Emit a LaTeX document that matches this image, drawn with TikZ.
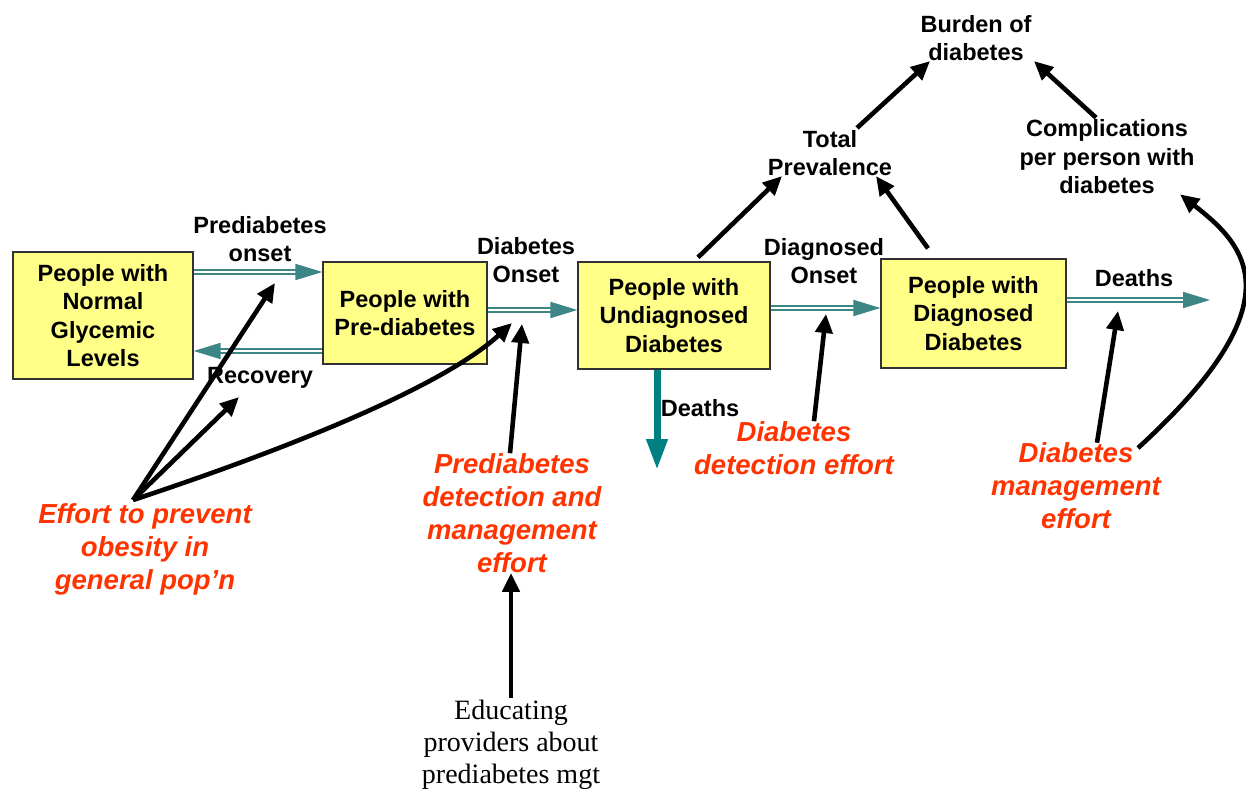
\documentclass[tikz,border=0pt]{standalone}
\usepackage{fontspec}
\setmainfont{Liberation Sans}
\newfontfamily\plainserif{Liberation Serif}
\usetikzlibrary{arrows.meta}
\definecolor{boxyellow}{RGB}{255,255,136}
\definecolor{flowteal}{RGB}{62,134,134}
\definecolor{deadteal}{RGB}{0,128,128}
\definecolor{effortred}{RGB}{255,51,0}
\definecolor{boxline}{RGB}{50,50,50}

\begin{document}
\begin{tikzpicture}[x=1pt,y=-1pt,
  stock/.style={draw=boxline, line width=1.2pt, fill=boxyellow, inner sep=0pt,
    align=center, font=\fontsize{23.5}{28.5}\selectfont\bfseries},
  lbl/.style={align=center, inner sep=0pt, font=\fontsize{23.5}{28.5}\selectfont\bfseries},
  effort/.style={align=center, inner sep=0pt, text=effortred,
    font=\fontsize{27.5}{33}\selectfont\bfseries\itshape},
  flow/.style={draw=flowteal, line width=1.8pt, double=white, double distance=2.4pt,
    -{Triangle[length=27pt,width=16pt]}},
  link/.style={line width=4.6pt, -{Triangle[length=19pt,width=17pt]}},
]
\useasboundingbox (0,0) rectangle (1246,791);

% stocks
\node[stock, minimum width=180pt, minimum height=127pt] (normal) at (103,315.5)
  {People with\\Normal\\Glycemic\\Levels};
\node[stock, minimum width=164pt, minimum height=102pt] (pre) at (405,313)
  {People with\\Pre-diabetes};
\node[stock, minimum width=192pt, minimum height=107pt] (undx) at (674,315.5)
  {People with\\Undiagnosed\\Diabetes};
\node[stock, minimum width=185pt, minimum height=109pt] (dx) at (973.5,313.5)
  {People with\\Diagnosed\\Diabetes};

% auxiliary variables and flow labels
\node[lbl] (burden) at (976,38) {Burden of\\diabetes};
\node[lbl] (total) at (830,153) {Total\\Prevalence};
\node[lbl] (compl) at (1107,157) {Complications\\per person with\\diabetes};
\node[lbl] (preonset) at (260,239) {Prediabetes\\onset};
\node[lbl] (dbonset) at (526,260) {Diabetes\\Onset};
\node[lbl] (dxonset) at (824,261) {Diagnosed\\Onset};
\node[lbl] (recovery) at (260,378) {Recovery};
\node[lbl] (deathsR) at (1134,278) {Deaths};
\node[lbl] (deathsD) at (700,408) {Deaths};

% interventions
\node[effort] (obesity) at (145,549) {Effort to prevent\\obesity in\\general pop'n};
\node[effort] (predet) at (512,513) {Prediabetes\\detection and\\management\\effort};
\node[effort] (dbdet) at (794,448) {Diabetes\\detection effort};
\node[effort] (dbmgmt) at (1076,486) {Diabetes\\management\\effort};
\node[align=center, inner sep=0pt, font=\plainserif\fontsize{28}{32}\selectfont]
  (educ) at (511,745) {Educating\\providers about\\prediabetes mgt};

% flows between stocks
\draw[flow] (normal.east |- 0,272) -- (pre.west |- 0,272);
\draw[flow] (pre.west |- 0,351) -- (normal.east |- 0,351);
\draw[flow] (pre.east |- 0,310) -- (undx.west |- 0,310);
\draw[flow] (undx.east |- 0,308) -- (dx.west |- 0,308);
\coordinate (deathsEnd) at (1210,300);
\draw[flow] (dx.east |- deathsEnd) -- (deathsEnd);
\coordinate (undxOut) at (657,470);
\draw[deadteal, line width=7pt, -{Triangle[length=31pt,width=20pt]}]
  (undx.south -| undxOut) -- (undxOut);

% influence points on the flows
\coordinate (effApex) at (133,500);
\coordinate (onsetValve) at (275,283);
\coordinate (recValve) at (239,397);
\coordinate (dbValveA) at (512,323);
\coordinate (dbValveB) at (522,324);
\coordinate (dxValve) at (826,314);
\coordinate (deathValve) at (1118,311);
\coordinate (mgmtStart) at (1138,448);

% influence links
\draw[link] (effApex) -- (onsetValve);
\draw[link] (effApex) -- (recValve);
\draw[link] (effApex) .. controls (320,438) and (450,380) .. (dbValveA);
\draw[link] (predet.north -| 510,0) -- (dbValveB);
\draw[link] ([yshift=2pt]educ.north -| 511,0) -- (predet.south -| 511,0);
\draw[link] (dbdet.north -| 814,0) -- (dxValve);
\draw[link] (dbmgmt.north -| 1097,0) -- (deathValve);
\draw[link] (mgmtStart) .. controls (1300,300) and (1245,245) .. (compl.south east -| 1180,0);
\draw[link] ([yshift=4pt]undx.north -| 698,0) -- (total.south west -| 782,0);
\draw[link] ([yshift=10pt]dx.north -| 928,0) -- (total.south east -| 876,0);
\draw[link] ([yshift=2pt]total.north east -| 857,0) -- (burden.south west -| 930,0);
\draw[link] ([yshift=2pt]compl.north -| 1096,0) -- (burden.south east -| 1034,0);
\end{tikzpicture}
\end{document}
